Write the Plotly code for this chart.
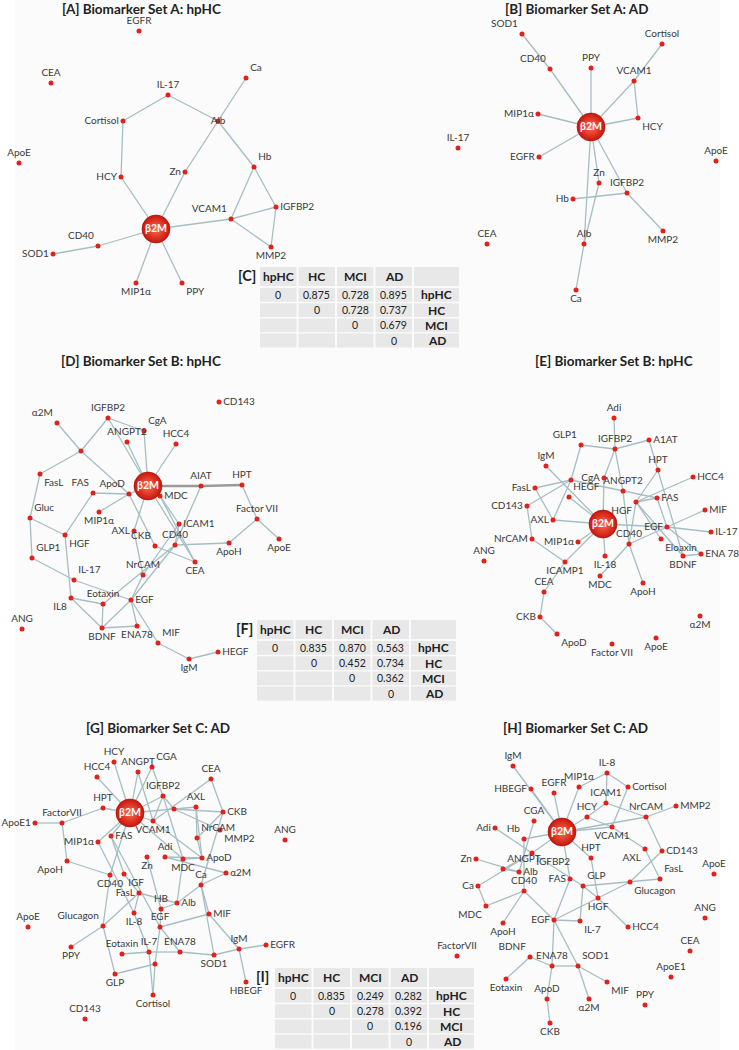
import plotly.graph_objects as go

# ---------------- Panel A: Biomarker Set A, hpHC ----------------
A_nodes = ["EGFR", "CEA", "Ca", "IL-17", "Cortisol", "Alb", "ApoE", "Hb", "HCY", "Zn", "IGFBP2",
           "VCAM1", "β2M", "CD40", "MMP2", "SOD1", "MIP1α", "PPY"]
A_x = [139, 51, 246, 168, 123, 218, 19, 254, 121, 185, 276, 231, 156, 98, 271, 53, 136, 182]
A_y = [31, 83, 78, 95, 121, 121, 163, 167, 177, 172, 207, 219, 229, 246, 247, 254, 283, 283]
A_lab = ["t", "t", "tr", "t", "l", "c", "t", "tr", "l", "l", "r", "tl", "c", "tl", "b", "l", "b", "br"]
A_edges = [("IL-17", "Cortisol"), ("IL-17", "Alb"), ("Cortisol", "HCY"), ("HCY", "β2M"), ("Ca", "Alb"),
           ("Alb", "Zn"), ("Zn", "β2M"), ("Alb", "Hb"), ("Hb", "VCAM1"), ("Hb", "IGFBP2"),
           ("IGFBP2", "VCAM1"), ("IGFBP2", "MMP2"), ("VCAM1", "MMP2"), ("VCAM1", "β2M"),
           ("β2M", "CD40"), ("CD40", "SOD1"), ("β2M", "MIP1α"), ("β2M", "PPY")]

# ---------------- Panel B: Biomarker Set A, AD ----------------
B_nodes = ["SOD1", "Cortisol", "CD40", "PPY", "VCAM1", "MIP1α", "HCY", "β2M", "IL-17", "EGFR", "ApoE",
           "Zn", "IGFBP2", "Hb", "MMP2", "CEA", "Alb", "Ca"]
B_x = [522, 662, 550, 591, 634, 538, 638, 591, 458, 539, 716, 599, 627, 573, 663, 487, 584, 576]
B_y = [34, 44, 69, 68, 81, 114, 118, 127, 148, 157, 161, 183, 193, 199, 231, 244, 244, 290]
B_lab = ["tl", "t", "tl", "t", "t", "l", "br", "c", "t", "l", "t", "t", "t", "l", "b", "t", "t", "b"]
B_edges = [("SOD1", "CD40"), ("CD40", "β2M"), ("PPY", "β2M"), ("Cortisol", "VCAM1"), ("VCAM1", "β2M"),
           ("VCAM1", "HCY"), ("HCY", "β2M"), ("MIP1α", "β2M"), ("EGFR", "β2M"), ("β2M", "IGFBP2"),
           ("IGFBP2", "MMP2"), ("β2M", "Alb"), ("β2M", "Zn"), ("Zn", "Alb"), ("Alb", "Ca"), ("Hb", "IGFBP2")]

# ---------------- Panel D: Biomarker Set B, hpHC ----------------
D_nodes = ["CD143", "IGFBP2", "α2M", "CgA", "ANGPT2", "HCC4", "_1", "FasL", "AIAT", "HPT", "β2M", "FAS",
           "ApoD", "MDC", "Gluc", "MIP1α", "Factor VII", "ICAM1", "AXL", "HGF", "CKB", "CD40", "ApoE",
           "ApoH", "GLP1", "CEA", "NrCAM", "IL-17", "IL8", "Eotaxin", "EGF", "ANG", "BDNF", "ENA78",
           "MIF", "HEGF", "IgM"]
D_x = [219, 108, 57, 144, 127, 176, 81, 40, 201, 242, 148, 93, 129, 160, 30, 99, 257, 179, 134, 65,
       155, 175, 279, 229, 32, 195, 143, 74, 71, 103, 131, 22, 102, 137, 158, 218, 189]
D_y = [402, 418, 423, 431, 442, 444, 451, 474, 486, 485, 486, 493, 494, 496, 518, 512, 519, 524, 531, 535,
       546, 545, 539, 543, 558, 562, 575, 580, 598, 604, 600, 629, 628, 626, 643, 652, 659]
D_lab = ["r", "t", "tl", "tr", "t", "t", "", "br", "t", "t", "c", "tl", "tl", "r", "tr", "b", "t", "r", "l", "br",
         "tl", "t", "b", "b", "tr", "b", "t", "tr", "bl", "t", "r", "t", "b", "b", "tr", "r", "b"]
D_edges = [("IGFBP2", "CgA"), ("IGFBP2", "_1"), ("IGFBP2", "β2M"), ("CgA", "β2M"), ("ANGPT2", "β2M"),
           ("HCC4", "β2M"), ("α2M", "_1"), ("_1", "FasL"), ("_1", "ApoD"), ("FasL", "Gluc"), ("Gluc", "GLP1"),
           ("Gluc", "HGF"), ("FAS", "HGF"), ("FAS", "ApoD"), ("MIP1α", "ApoD"), ("ApoD", "β2M"), ("HGF", "IL8"),
           ("GLP1", "IL-17"), ("IL-17", "EGF"), ("IL8", "Eotaxin"), ("IL8", "BDNF"), ("Eotaxin", "BDNF"),
           ("BDNF", "ENA78"), ("BDNF", "EGF"), ("EGF", "ENA78"), ("EGF", "MIF"), ("EGF", "NrCAM"),
           ("NrCAM", "AXL"), ("AXL", "β2M"), ("HPT", "Factor VII"), ("Factor VII", "ApoE"),
           ("Factor VII", "ApoH"), ("ApoH", "CD40"), ("β2M", "CEA"), ("CKB", "CEA"), ("β2M", "MDC"),
           ("MDC", "ICAM1"), ("ICAM1", "CD40"), ("AIAT", "CD40"), ("CD40", "Eotaxin"), ("CD40", "EGF"),
           ("MIF", "IgM"), ("IgM", "HEGF"), ("ApoD", "CKB"), ("MDC", "CEA"), ("ICAM1", "NrCAM")]
D_thick = [("β2M", "AIAT"), ("AIAT", "HPT")]

# ---------------- Panel E: Biomarker Set B, hpHC ----------------
E_nodes = ["Adi", "GLP1", "IGFBP2", "A1AT", "IgM", "HPT", "CgA", "HCC4", "FasL", "_1", "ANGPT2", "HEGF",
           "FAS", "HGF", "CD143", "MIF", "AXL", "β2M", "EGF", "IL-17", "CD40", "NrCAM", "MIP1α", "Eloaxin",
           "IL-18", "ANG", "BDNF", "ENA 78", "ICAMP1", "MDC", "CEA", "ApoH", "CKB", "α2M", "ApoD", "ApoE",
           "Factor VII"]
E_x = [614, 581, 615, 649, 546, 658, 604, 693, 535, 571, 623, 569, 657, 636, 527, 705, 553, 603, 667, 711,
       629, 532, 578, 661, 605, 484, 683, 701, 565, 600, 544, 643, 540, 700, 557, 656, 612]
E_y = [418, 445, 449, 440, 466, 470, 478, 477, 488, 480, 491, 497, 498, 502, 506, 510, 520, 524, 527, 532,
       544, 539, 542, 539, 556, 561, 556, 554, 562, 576, 592, 583, 617, 616, 634, 638, 644]
E_lab = ["t", "tl", "t", "r", "t", "t", "l", "r", "l", "", "t", "tr", "r", "bl", "l", "r", "l", "c", "l", "r",
         "t", "l", "l", "br", "b", "t", "b", "r", "b", "b", "t", "b", "l", "b", "br", "b", "b"]
E_edges = [("Adi", "IGFBP2"), ("GLP1", "IGFBP2"), ("IGFBP2", "A1AT"), ("IGFBP2", "CgA"), ("IGFBP2", "ANGPT2"),
           ("GLP1", "_1"), ("A1AT", "BDNF"), ("IgM", "β2M"), ("_1", "FasL"), ("_1", "FAS"), ("_1", "AXL"),
           ("CD143", "NrCAM"), ("CD143", "_1"), ("FasL", "AXL"), ("HEGF", "β2M"), ("CgA", "β2M"),
           ("HPT", "HGF"), ("HCC4", "HGF"), ("HGF", "FAS"), ("HGF", "Eloaxin"), ("HGF", "CD40"),
           ("ANGPT2", "CD40"), ("EGF", "MIF"), ("EGF", "IL-17"), ("EGF", "ENA 78"), ("EGF", "FAS"),
           ("EGF", "β2M"), ("BDNF", "ENA 78"), ("HGF", "BDNF"), ("AXL", "β2M"), ("MIP1α", "β2M"),
           ("β2M", "IL-18"), ("β2M", "ICAMP1"), ("NrCAM", "ICAMP1"), ("ICAMP1", "CEA"), ("CEA", "CKB"),
           ("CKB", "ApoD"), ("CD40", "MDC"), ("CD40", "ApoH"), ("EGF", "CD40")]

# ---------------- Panel G: Biomarker Set C, AD ----------------
G_nodes = ["HCY", "CGA", "ANGPT", "HCC4", "CEA", "IGFBP2", "_1", "HPT", "AXL", "β2M", "CKB", "FactorVII",
           "ApoE1", "VCAM1", "NrCAM", "MMP2", "MIP1α", "FAS", "ANG", "Adi", "Zn", "MDC", "ApoD", "ApoH", "α2M",
           "CD40", "IGF", "Ca", "FasL", "HB", "Alb", "MIF", "ApoE", "Glucagon", "IL-8", "EGF", "PPY", "IgM",
           "EGFR", "Eotaxin", "IL-7", "ENA78", "SOD1", "_2", "GLP", "HBEGF", "Cortisol", "CD143"]
G_x = [114, 152, 138, 97, 211, 163, 174, 103, 196, 130, 223, 62, 35, 153, 197, 220, 98, 111, 285, 165,
       147, 183, 202, 67, 226, 110, 124, 201, 139, 161, 177, 209, 28, 103, 134, 160, 71, 239, 266, 122,
       149, 180, 214, 155, 115, 246, 153, 85]
G_y = [762, 767, 772, 777, 779, 796, 809, 808, 807, 813, 812, 823, 823, 821, 838, 830, 842, 836, 840, 857,
       857, 859, 858, 861, 873, 875, 874, 885, 893, 909, 903, 914, 927, 926, 913, 927, 947, 949, 945, 954,
       952, 952, 955, 964, 974, 982, 995, 1019]
G_lab = ["t", "tr", "t", "t", "t", "t", "", "t", "t", "c", "r", "t", "l", "b", "tr", "br", "l", "r", "t", "t",
         "b", "b", "r", "bl", "r", "b", "br", "t", "l", "t", "r", "r", "t", "tl", "b", "t", "b", "t", "r", "t",
         "t", "t", "b", "", "b", "b", "b", "t"]
G_edges = [("β2M", "HCY"), ("β2M", "HCC4"), ("β2M", "ANGPT"), ("β2M", "CGA"), ("β2M", "IGFBP2"), ("β2M", "HPT"),
           ("β2M", "_1"), ("β2M", "VCAM1"), ("β2M", "MIP1α"), ("β2M", "FAS"), ("β2M", "MDC"), ("β2M", "CD40"),
           ("HPT", "FactorVII"), ("FactorVII", "ApoE1"), ("FactorVII", "ApoH"), ("ApoH", "CD40"),
           ("CEA", "VCAM1"), ("CEA", "CKB"), ("CGA", "IGFBP2"), ("ANGPT", "VCAM1"), ("IGFBP2", "VCAM1"),
           ("IGFBP2", "_1"), ("IGFBP2", "MDC"), ("_1", "CKB"), ("_1", "AXL"), ("_1", "MMP2"), ("AXL", "NrCAM"),
           ("AXL", "ApoD"), ("CKB", "NrCAM"), ("CKB", "Ca"), ("NrCAM", "ApoD"), ("Adi", "ApoD"), ("Adi", "α2M"),
           ("MDC", "ApoD"), ("Ca", "α2M"), ("Ca", "MIF"), ("MIF", "EGF"), ("MIF", "IgM"), ("Ca", "SOD1"),
           ("IgM", "EGFR"), ("IgM", "HBEGF"), ("IgM", "SOD1"), ("Eotaxin", "IL-7"), ("IL-7", "ENA78"),
           ("ENA78", "SOD1"), ("EGF", "ENA78"), ("EGF", "HB"), ("HB", "Alb"), ("Alb", "MDC"), ("Alb", "Ca"),
           ("FasL", "IGF"), ("FasL", "IL-8"), ("FasL", "Glucagon"), ("FasL", "Alb"), ("Glucagon", "PPY"),
           ("Glucagon", "GLP"), ("GLP", "_2"), ("_2", "Cortisol"), ("_2", "EGF"), ("IL-7", "Cortisol"),
           ("MIP1α", "IL-8"), ("FAS", "IGF"), ("FAS", "EGF"), ("Zn", "HB"), ("IL-8", "IL-7"), ("VCAM1", "ApoD"),
           ("CD40", "Glucagon")]

# ---------------- Panel H: Biomarker Set C, AD ----------------
H_nodes = ["IgM", "IL-8", "MIP1α", "Cortisol", "HBEGF", "EGFR", "ICAM1", "MMP2", "NrCAM", "HCY", "CGA", "Adi",
           "VCAM1", "β2M", "Hb", "HPT", "AXL", "CD143", "IGFBP2", "Zn", "ANGPT", "ApoE", "Alb", "FasL", "Ca",
           "FAS", "GLP", "CD40", "Glucagon", "HGF", "MDC", "ANG", "EGF", "IL-7", "ApoH", "HCC4", "CEA",
           "FactorVII", "BDNF", "ENA78", "SOD1", "ApoE1", "Eotaxin", "MIF", "PPY", "ApoD", "α2M", "CKB"]
H_x = [513, 607, 579, 628, 531, 554, 606, 676, 646, 587, 534, 495, 612, 562, 524, 591, 645, 662, 532, 476,
       503, 714, 519, 660, 478, 570, 583, 524, 630, 598, 486, 705, 554, 580, 503, 628, 690, 457, 530, 552,
       578, 671, 506, 607, 645, 547, 589, 550]
H_y = [766, 773, 787, 787, 789, 793, 803, 806, 817, 817, 821, 828, 827, 832, 839, 858, 849, 851, 853, 859,
       869, 874, 872, 879, 886, 879, 886, 891, 882, 898, 906, 918, 920, 921, 923, 927, 951, 956, 957, 966,
       966, 977, 979, 982, 1005, 999, 999, 1023]
H_lab = ["t", "t", "t", "r", "l", "t", "t", "r", "t", "t", "t", "l", "b", "c", "tl", "t", "bl", "r", "br", "l",
         "tr", "t", "r", "tr", "l", "l", "tr", "t", "br", "b", "bl", "t", "l", "br", "b", "r", "t", "t", "tl", "t",
         "tr", "t", "b", "br", "t", "t", "b", "b"]
H_edges = [("IgM", "β2M"), ("HBEGF", "β2M"), ("EGFR", "β2M"), ("MIP1α", "β2M"), ("IL-8", "ICAM1"),
           ("IL-8", "Cortisol"), ("IL-8", "MIP1α"), ("Cortisol", "VCAM1"), ("ICAM1", "NrCAM"), ("ICAM1", "HCY"),
           ("HCY", "β2M"), ("HCY", "VCAM1"), ("β2M", "VCAM1"), ("β2M", "NrCAM"), ("NrCAM", "MMP2"),
           ("NrCAM", "CD143"), ("VCAM1", "AXL"), ("AXL", "FasL"), ("CD143", "Glucagon"), ("FasL", "GLP"),
           ("CGA", "Alb"), ("Adi", "IGFBP2"), ("Hb", "β2M"), ("Hb", "CD40"), ("IGFBP2", "β2M"), ("Zn", "Alb"),
           ("ANGPT", "Alb"), ("ANGPT", "IGFBP2"), ("Ca", "IGFBP2"), ("Ca", "MDC"), ("MDC", "CD40"),
           ("CD40", "ApoH"), ("CD40", "EGF"), ("β2M", "HPT"), ("HPT", "HGF"), ("IGFBP2", "GLP"), ("β2M", "FAS"),
           ("FAS", "EGF"), ("GLP", "HGF"), ("GLP", "IL-7"), ("HGF", "HCC4"), ("HGF", "Glucagon"), ("HGF", "EGF"),
           ("EGF", "IL-7"), ("EGF", "ENA78"), ("EGF", "SOD1"), ("BDNF", "ENA78"), ("BDNF", "Eotaxin"),
           ("ENA78", "SOD1"), ("SOD1", "MIF"), ("SOD1", "α2M"), ("ENA78", "ApoD"), ("ApoD", "CKB")]

# ---------------- Distance tables ----------------
T_groups = ["hpHC", "HC", "MCI", "AD"]
C_vals = [[0, 0.875, 0.728, 0.895], [None, 0, 0.728, 0.737], [None, None, 0, 0.679], [None, None, None, 0]]
F_vals = [[0, 0.835, 0.870, 0.563], [None, 0, 0.452, 0.734], [None, None, 0, 0.362], [None, None, None, 0]]
I_vals = [[0, 0.835, 0.249, 0.282], [None, 0, 0.278, 0.392], [None, None, 0, 0.196], [None, None, None, 0]]

TITLES = ["[A] Biomarker Set A: hpHC", "[B] Biomarker Set A: AD", "[D] Biomarker Set B: hpHC",
          "[E] Biomarker Set B: hpHC", "[G] Biomarker Set C: AD", "[H] Biomarker Set C: AD"]

# ---------------- styling ----------------
POS = {"t": "top center", "b": "bottom center", "l": "middle left", "r": "middle right",
       "tl": "top left", "tr": "top right", "bl": "bottom left", "br": "bottom right",
       "c": "middle center", "": "middle center"}
FONT = "Lato, 'Open Sans', sans-serif"
EDGE = "#a6bec3"
DOT = "#e2211b"
TXT = "#3a3a3a"

fig = go.Figure()


def add_net(names, xs, ys, labs, edges, thick=None):
    idx = {n: i for i, n in enumerate(names)}
    ex, ey = [], []
    for a, b in edges:
        ex += [xs[idx[a]], xs[idx[b]], None]
        ey += [ys[idx[a]], ys[idx[b]], None]
    fig.add_trace(go.Scatter(x=ex, y=ey, mode="lines", line=dict(color=EDGE, width=1.3),
                             hoverinfo="skip"))
    if thick:
        tx, ty = [], []
        for a, b in thick:
            tx += [xs[idx[a]], xs[idx[b]], None]
            ty += [ys[idx[a]], ys[idx[b]], None]
        fig.add_trace(go.Scatter(x=tx, y=ty, mode="lines", line=dict(color="#9a9a9a", width=2.6),
                                 hoverinfo="skip"))
    small = [i for i, n in enumerate(names) if n != "β2M"]
    fig.add_trace(go.Scatter(
        x=[xs[i] for i in small], y=[ys[i] for i in small], mode="markers+text",
        text=["" if names[i].startswith("_") else names[i] for i in small],
        textposition=[POS[labs[i]] for i in small],
        marker=dict(size=5, color=DOT),
        textfont=dict(size=10, color=TXT, family=FONT), hoverinfo="text"))
    h = idx["β2M"]
    fig.add_trace(go.Scatter(
        x=[xs[h]], y=[ys[h]], mode="markers+text", text=["<b>β2M</b>"], textposition="middle center",
        marker=dict(size=28, color="#c8150c", gradient=dict(type="radial", color="#ff6b4f"),
                    line=dict(width=0.6, color="#9e0e06")),
        textfont=dict(size=10.5, color="white", family=FONT), hoverinfo="skip"))


shapes, annos = [], []
# faint figure background panel
shapes.append(dict(type="rect", xref="x", yref="y", x0=15, x1=720, y0=0, y1=1050,
                   fillcolor="#fbfbfb", line=dict(width=0), layer="below"))

add_net(A_nodes, A_x, A_y, A_lab, A_edges)
add_net(B_nodes, B_x, B_y, B_lab, B_edges)
add_net(D_nodes, D_x, D_y, D_lab, D_edges, D_thick)
add_net(E_nodes, E_x, E_y, E_lab, E_edges)
add_net(G_nodes, G_x, G_y, G_lab, G_edges)
add_net(H_nodes, H_x, H_y, H_lab, H_edges)

title_xy = [(141, 8.5), (577, 8.5), (141, 361), (614, 361), (158, 728), (575, 728)]
for t, (tx, ty) in zip(TITLES, title_xy):
    annos.append(dict(x=tx, y=ty, text=f"<b>{t}</b>", showarrow=False, xref="x", yref="y",
                      borderpad=0, font=dict(size=13.5, color="#222", family=FONT)))

COLW = [38.5, 38.5, 38.5, 38.5, 47]


def add_table(tag, x0, y0, vals):
    edges_x = [x0]
    for w in COLW:
        edges_x.append(edges_x[-1] + w)
    rows_y = [(y0, y0 + 19)]
    for k in range(4):
        top = y0 + 21 + k * 15.2
        rows_y.append((top, top + 13.8))
    for r, (ya, yb) in enumerate(rows_y):
        for c in range(5):
            shapes.append(dict(type="rect", xref="x", yref="y", x0=edges_x[c] + 1, x1=edges_x[c + 1] - 1,
                               y0=ya, y1=yb, fillcolor="#e8e8e8", line=dict(width=0), layer="below"))
            cx = (edges_x[c] + edges_x[c + 1]) / 2
            cy = (ya + yb) / 2
            if r == 0:
                txt = f"<b>{T_groups[c]}</b>" if c < 4 else ""
                size = 12
            else:
                if c == 4:
                    txt = f"<b>{T_groups[r - 1]}</b>"
                    size = 12
                else:
                    v = vals[r - 1][c]
                    txt = "" if v is None else ("0" if v == 0 else f"{v:.3f}")
                    size = 10.5
            if txt:
                annos.append(dict(x=cx, y=cy, text=txt, showarrow=False, xref="x", yref="y",
                                  font=dict(size=size, color="#222", family=FONT)))
    annos.append(dict(x=x0 - 12, y=y0 + 8, text=f"<b>{tag}</b>", showarrow=False, xref="x", yref="y",
                      font=dict(size=14.5, color="#222", family=FONT)))


add_table("[C]", 259, 267, C_vals)
add_table("[F]", 256, 620, F_vals)
add_table("[I]", 274, 968, I_vals)

fig.update_layout(
    width=739, height=1050, margin=dict(l=0, r=0, t=0, b=0),
    paper_bgcolor="white", plot_bgcolor="white", showlegend=False,
    xaxis=dict(range=[0, 739], visible=False, fixedrange=True),
    yaxis=dict(range=[1050, 0], visible=False, fixedrange=True),
    shapes=shapes, annotations=annos,
)

fig.write_html("out.html", config={"displayModeBar": False},
               post_script="document.body.style.margin='0';document.body.style.overflow='hidden';")
